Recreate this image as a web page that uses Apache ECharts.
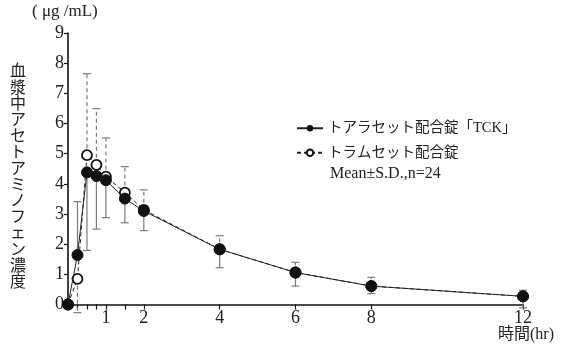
<!DOCTYPE html>
<html><head><meta charset="utf-8">
<script src="https://cdn.jsdelivr.net/npm/echarts@6/dist/echarts.min.js"></script>
<style>html,body{margin:0;padding:0;background:#fff}#c{width:569px;height:356px}</style>
</head><body><div id="c"></div>
<script>
const times = [0, 0.25, 0.5, 0.75, 1, 1.5, 2, 4, 6, 8, 12];
const tckMean = [0, 1.64, 4.38, 4.26, 4.12, 3.51, 3.10, 1.83, 1.06, 0.61, 0.27];
const tramMean = [0, 0.85, 4.95, 4.63, 4.24, 3.71, 3.14, 1.83, 1.06, 0.61, 0.27];
// error bar far ends (mean ± S.D., drawn one-sided as in the figure)
const tckErrEnd = [null, 3.41, 1.79, 2.50, 2.88, 2.71, 2.45, 1.22, 0.61, 0.36, -0.11];
const tramErrEnd = [null, -0.27, 7.65, 6.49, 5.52, 4.57, 3.80, 2.28, 1.40, 0.90, 0.47];
const xTickValues = [0.25, 0.5, 0.75, 1, 1.5, 2, 4, 6, 8, 12];
const xLabelValues = [1, 2, 4, 6, 8, 12];
const yTicks = [0, 1, 2, 3, 4, 5, 6, 7, 8, 9];
const seriesNames = ['トアラセット配合錠「TCK」', 'トラムセット配合錠'];
const yTitle = '血漿中アセトアミノフェン濃度';

const FONT = "'Liberation Serif', 'Noto Sans CJK JP', serif";
const TXT = '#222';

function errData(means, ends) {
  const out = [];
  times.forEach((t, i) => { if (ends[i] !== null) out.push([t, means[i], ends[i]]); });
  return out;
}
function errRender(dashed) {
  return function (params, api) {
    const p0 = api.coord([api.value(0), api.value(1)]);
    const p1 = api.coord([api.value(0), api.value(2)]);
    const style = { stroke: '#7a7a7a', lineWidth: 1.2, lineDash: dashed ? [4, 3] : null };
    return { type: 'group', children: [
      { type: 'line', shape: { x1: p0[0], y1: p0[1], x2: p1[0], y2: p1[1] }, style: style },
      { type: 'line', shape: { x1: p1[0] - 4, y1: p1[1], x2: p1[0] + 4, y2: p1[1] }, style: { stroke: '#7a7a7a', lineWidth: 1.2 } }
    ]};
  };
}

const chart = echarts.init(document.getElementById('c'), null, { renderer: 'canvas' });
chart.setOption({
  animation: false,
  backgroundColor: '#fff',
  grid: { left: 68, right: 46, top: 33, bottom: 51.5 },
  xAxis: {
    type: 'value', min: 0, max: 12,
    axisLine: { lineStyle: { color: '#111', width: 1.6 } },
    axisTick: { show: true, length: 5, customValues: xTickValues, lineStyle: { color: '#111', width: 1.2 } },
    axisLabel: { customValues: xLabelValues, color: TXT, fontFamily: FONT, fontSize: 18, margin: 5 },
    splitLine: { show: false }
  },
  yAxis: {
    type: 'value', min: 0, max: 9, interval: 1,
    axisLine: { show: true, lineStyle: { color: '#111', width: 1.6 } },
    axisTick: { show: true, length: 4, lineStyle: { color: '#111', width: 1.2 } },
    axisLabel: { color: TXT, fontFamily: FONT, fontSize: 18, margin: 4,
      formatter: v => yTicks.includes(v) ? String(v) : '' },
    splitLine: { show: false }
  },
  legend: {
    left: 291, top: 116, orient: 'vertical', itemGap: 10, itemWidth: 26, itemHeight: 8,
    textStyle: { color: TXT, fontFamily: FONT, fontSize: 14.5 },
    data: seriesNames
  },
  graphic: [
    { type: 'text', left: 32, top: 3, style: { text: '( μg /mL)', fill: TXT, font: '17px ' + FONT } },
    { type: 'text', left: 498, top: 327, style: { text: '時間(hr)', fill: TXT, font: '16px ' + FONT } },
    { type: 'text', left: 330, top: 166, style: { text: 'Mean±S.D.,n=24', fill: TXT, font: '16px ' + FONT } },
    { type: 'text', left: 10, top: 64, style: { text: yTitle.split('').join('\n'), fill: TXT, font: '16px ' + FONT, lineHeight: 16.2, align: 'left' } }
  ],
  series: [
    { type: 'custom', name: 'err1', renderItem: errRender(false), data: errData(tckMean, tckErrEnd), clip: false, z: 1, silent: true },
    { type: 'custom', name: 'err2', renderItem: errRender(true), data: errData(tramMean, tramErrEnd), clip: false, z: 1, silent: true },
    { type: 'line', name: seriesNames[1], data: times.map((t, i) => [t, tramMean[i]]),
      symbol: 'circle', symbolSize: 10, showAllSymbol: true, clip: false, z: 3,
      lineStyle: { color: '#222', width: 1, type: [4, 3] },
      itemStyle: { color: '#fff', borderColor: '#111', borderWidth: 1.8 } },
    { type: 'line', name: seriesNames[0], data: times.map((t, i) => [t, tckMean[i]]),
      symbol: 'circle', symbolSize: 11, showAllSymbol: true, clip: false, z: 4,
      lineStyle: { color: '#222', width: 1 },
      itemStyle: { color: '#111', borderColor: '#111' } }
  ]
});
</script></body></html>
